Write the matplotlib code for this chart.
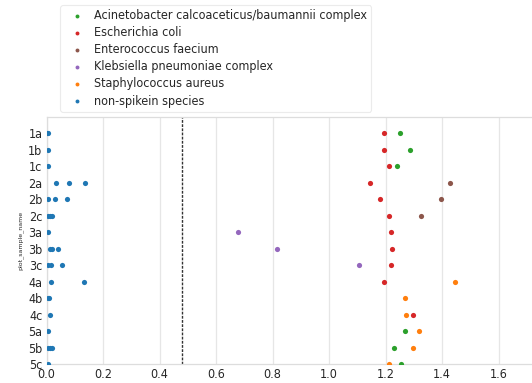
import matplotlib
matplotlib.use("Agg")
import matplotlib.pyplot as plt
from matplotlib import font_manager as fm

samples = ["1a", "1b", "1c", "2a", "2b", "2c", "3a", "3b", "3c", "4a", "4b", "4c", "5a", "5b", "5c"]

species = ["Acinetobacter calcoaceticus/baumannii complex", "Escherichia coli",
           "Enterococcus faecium", "Klebsiella pneumoniae complex",
           "Staphylococcus aureus", "non-spikein species"]
colors = ["#2ca02c", "#d62728", "#8c564b", "#9467bd", "#ff7f0e", "#1f77b4"]

# (sample, ksd value) per species
acineto = [("1a", 1.253), ("1b", 1.287), ("1c", 1.239), ("5a", 1.270), ("5b", 1.230), ("5c", 1.255)]
ecoli = [("1a", 1.193), ("1b", 1.195), ("1c", 1.214), ("2a", 1.146), ("2b", 1.179), ("2c", 1.213),
         ("3a", 1.221), ("3b", 1.224), ("3c", 1.218), ("4a", 1.195), ("4c", 1.297)]
efaecium = [("2a", 1.427), ("2b", 1.398), ("2c", 1.326)]
kpneu = [("3a", 0.677), ("3b", 0.817), ("3c", 1.106)]
saureus = [("4a", 1.446), ("4b", 1.269), ("4c", 1.272), ("5a", 1.317), ("5b", 1.296), ("5c", 1.212)]
nonspike = [("1a", 0.005), ("1a", 0.003), ("1b", 0.007), ("1c", 0.005),
            ("2a", 0.034), ("2a", 0.079), ("2a", 0.136),
            ("2b", 0.005), ("2b", 0.029), ("2b", 0.074),
            ("2c", 0.007), ("2c", 0.012), ("2c", 0.018),
            ("3a", 0.007),
            ("3b", 0.013), ("3b", 0.020), ("3b", 0.041),
            ("3c", 0.007), ("3c", 0.016), ("3c", 0.054),
            ("4a", 0.015), ("4a", 0.132),
            ("4b", 0.007), ("4b", 0.008),
            ("4c", 0.011), ("5a", 0.007),
            ("5b", 0.007), ("5b", 0.012), ("5b", 0.020),
            ("5c", 0.007)]
series = [acineto, ecoli, efaecium, kpneu, saureus, nonspike]

threshold = 0.478

fp = fm.FontProperties(family="DejaVu Sans", stretch="condensed", size=9)

fig = plt.figure(figsize=(5.32, 3.83), dpi=100)
W, H = 532, 383
ax = fig.add_axes([46.5 / W, 19 / H, 1.75 * 282.5 / W, (364 - 117) / H])

handles = []
for name, col, data in zip(species, colors, series):
    ys = [samples.index(s) for s, v in data]
    xs = [v for s, v in data]
    h = ax.scatter(xs, ys, s=14, color=col, linewidths=0, label=name, zorder=3)
    handles.append(h)

ax.axvline(threshold, color="#333333", linestyle=(0, (2, 1)), linewidth=1.0, zorder=2)

ax.set_xlim(0, 1.75)
ax.set_ylim(14.0, -1.0)
ax.set_yticks(range(len(samples)))
ax.set_yticklabels(samples, fontproperties=fp)
ax.set_xticks([0.0, 0.2, 0.4, 0.6, 0.8, 1.0, 1.2, 1.4, 1.6])
ax.set_xticklabels(["0.0", "0.2", "0.4", "0.6", "0.8", "1.0", "1.2", "1.4", "1.6"], fontproperties=fp)
ax.tick_params(axis="both", length=0, labelcolor="#262626", pad=3)
ax.grid(axis="x", color="#e6e6e6", linewidth=0.9, zorder=0)
ax.set_axisbelow(True)
for sp in ax.spines.values():
    sp.set_color("#dddddd")
    sp.set_linewidth(0.9)

ax.set_xlabel("ksd_value", fontsize=4.5, color="#262626", labelpad=0.5)
ax.set_ylabel("plot_sample_name", fontsize=4.5, color="#262626", labelpad=3)

leg = fig.legend(handles=handles, labels=species, loc="upper left",
                 bbox_to_anchor=(60 / W, 1 - 5 / H), prop=fp,
                 frameon=True, markerscale=0.75, handlelength=2.0,
                 handletextpad=0.4, labelspacing=0.33, borderpad=0.32,
                 borderaxespad=0.0, fancybox=True)
leg.get_frame().set_edgecolor("#e6e6e6")
leg.get_frame().set_linewidth(0.8)
for t in leg.get_texts():
    t.set_color("#262626")

fig.savefig("out.png", dpi=100)
